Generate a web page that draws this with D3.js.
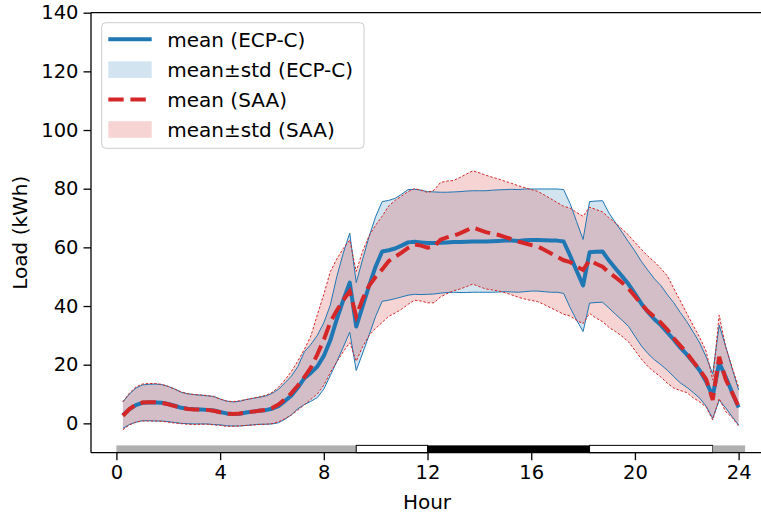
<!DOCTYPE html>
<html>
<head>
<meta charset="utf-8">
<script src="https://cdn.jsdelivr.net/npm/d3@7"></script>
<style>
  html, body { margin: 0; padding: 0; background: #fff; }
  svg { display: block; font-family: "DejaVu Sans", sans-serif; }
</style>
</head>
<body>
<svg id="chart" width="761" height="518"></svg>
<script>
const hours = [0.25,0.5,0.75,1,1.25,1.5,1.75,2,2.25,2.5,2.75,3,
  3.25,3.5,3.75,4,4.25,4.5,4.75,5,5.25,5.5,5.75,6,
  6.25,6.5,6.75,7,7.25,7.5,7.75,8,8.25,8.5,8.75,9,
  9.25,9.5,9.75,10,10.25,10.5,10.75,11,11.25,11.5,11.75,12,
  12.25,12.5,12.75,13,13.25,13.5,13.75,14,14.25,14.5,14.75,15,
  15.25,15.5,15.75,16,16.25,16.5,16.75,17,17.25,17.5,17.75,18,
  18.25,18.5,18.75,19,19.25,19.5,19.75,20,20.25,20.5,20.75,21,
  21.25,21.5,21.75,22,22.25,22.5,22.75,23,23.25,23.5,23.75,24];

const ecpMean = [2.8,4.8,6.2,7.0,7.1,7.1,7.0,6.6,6.0,5.3,5.0,4.8,
  4.7,4.6,4.4,3.9,3.4,3.2,3.3,3.7,4.0,4.3,4.5,5.0,
  5.9,7.6,9.5,12.2,15.4,17.2,19.4,23.0,28.3,35.5,42.0,48.0,
  33.0,40.0,47.0,53.5,58.6,59.0,59.6,60.6,61.7,61.9,61.7,61.5,
  61.5,61.6,61.7,61.8,61.8,61.9,62.0,62.0,62.0,62.1,62.2,62.3,
  62.3,62.2,62.4,62.5,62.5,62.4,62.3,62.3,62.0,57.2,52.0,47.0,
  58.3,58.5,58.6,55.5,52.8,50.2,47.5,44.2,40.8,38.0,35.5,33.5,
  31.0,28.5,25.8,23.5,20.8,18.0,14.2,9.3,20.7,15.8,10.5,5.4];

const ecpStd = [4.5,5.2,5.8,6.1,6.2,6.3,6.2,6.0,5.7,5.3,5.1,5.0,
  4.9,4.8,4.8,4.4,4.2,4.1,4.2,4.4,4.5,4.6,4.8,5.2,
  5.7,6.2,6.6,7.2,9.0,9.7,10.6,11.3,12.0,14.5,16.0,16.9,
  15.0,16.0,16.8,17.0,17.0,17.0,17.1,17.5,18.0,17.9,17.8,17.5,
  17.4,17.2,17.1,17.1,17.2,17.3,17.3,17.3,17.3,17.4,17.4,17.4,
  17.5,17.5,17.5,17.4,17.4,17.5,17.6,17.6,17.7,17.7,16.8,15.7,
  17.3,17.3,17.3,16.2,15.6,15.0,14.4,14.5,14.4,14.2,13.8,13.5,
  12.9,12.6,12.0,11.2,10.3,9.4,8.4,7.6,12.8,10.5,8.2,6.0];

const saaMean = [2.6,4.9,6.4,7.1,7.2,7.2,7.0,6.5,5.9,5.3,4.9,4.7,
  4.7,4.6,4.3,3.8,3.3,3.2,3.4,3.7,4.0,4.3,4.6,5.2,
  6.4,8.2,10.3,12.9,15.8,19.0,23.5,28.5,34.5,38.5,42.0,45.0,
  36.5,42.5,47.0,50.0,52.5,55.3,56.8,58.2,59.8,61.0,60.6,59.9,
  60.3,62.6,63.4,64.0,64.8,65.8,66.8,66.0,65.2,64.7,64.2,63.5,
  62.8,62.0,61.4,60.8,60.3,59.2,58.0,56.8,55.6,55.0,53.5,52.3,
  55.6,54.4,53.4,51.4,49.8,48.0,46.0,43.3,40.6,38.2,36.3,34.3,
  32.0,29.0,26.5,24.0,21.0,18.3,15.0,8.0,22.7,15.0,10.5,5.7];

const saaStd = [4.8,5.4,6.0,6.3,6.4,6.4,6.3,6.1,5.8,5.4,5.2,5.1,
  5.0,4.9,4.8,4.5,4.3,4.2,4.3,4.4,4.6,4.7,4.9,5.3,
  5.9,6.6,7.4,8.4,9.4,10.8,13.5,15.5,17.2,17.5,17.6,17.5,
  15.3,16.3,17.0,17.6,18.1,18.8,19.2,19.3,19.2,19.0,18.9,18.8,
  19.2,19.5,19.2,18.8,19.0,19.2,19.3,19.4,19.4,19.2,19.1,19.0,
  19.0,19.0,19.0,18.9,18.8,18.7,18.6,18.5,18.4,18.4,18.4,18.3,
  18.1,18.5,18.7,18.7,18.5,18.3,18.2,18.4,18.7,18.8,18.8,18.5,
  18.3,17.0,15.3,13.5,12.3,11.0,9.5,6.8,14.2,11.0,8.5,6.6];

// bottom schedule bar
const barStart = [0, 9.25, 12, 18.25, 23];
const barEnd   = [9.25, 12, 18.25, 23, 24.25];
const barKind  = ["gray", "white", "black", "white", "gray"];
const barLow = -10, barHigh = -7.5;

const xTicks = [0, 4, 8, 12, 16, 20, 24];
const yTicks = [0, 20, 40, 60, 80, 100, 120, 140];

const legendLabels = ["mean (ECP-C)", "mean\u00b1std (ECP-C)", "mean (SAA)", "mean\u00b1std (SAA)"];

const BLUE = "#1f77b4", RED = "#d62728";
const FS_TICK = 19.5, FS = 20;

const svg = d3.select("#chart");
const L = 91, R = 763, T = 12.7, B = 452.7;
const x = d3.scaleLinear().domain([-0.98, 24.94]).range([L, R]);
const y = d3.scaleLinear().domain([-10, 140]).range([B, T]);

const ecp = hours.map((h, i) => ({h, m: ecpMean[i], s: ecpStd[i]}));
const saa = hours.map((h, i) => ({h, m: saaMean[i], s: saaStd[i]}));

const area = d3.area().x(d => x(d.h)).y0(d => y(d.m - d.s)).y1(d => y(d.m + d.s));
const lineM = d3.line().x(d => x(d.h)).y(d => y(d.m));
const lineU = d3.line().x(d => x(d.h)).y(d => y(d.m + d.s));
const lineL = d3.line().x(d => x(d.h)).y(d => y(d.m - d.s));

const plot = svg.append("g");

// bands
plot.append("path").datum(ecp).attr("d", area).attr("fill", BLUE).attr("fill-opacity", 0.2);
plot.append("path").datum(saa).attr("d", area).attr("fill", RED).attr("fill-opacity", 0.2);

// band edges
[lineU, lineL].forEach(g => {
  plot.append("path").datum(ecp).attr("d", g).attr("fill", "none")
    .attr("stroke", BLUE).attr("stroke-width", 1);
});
[lineU, lineL].forEach(g => {
  plot.append("path").datum(saa).attr("d", g).attr("fill", "none")
    .attr("stroke", RED).attr("stroke-width", 1).attr("stroke-dasharray", "2.5,1.8");
});

// means
plot.append("path").datum(ecp).attr("d", lineM).attr("fill", "none")
  .attr("stroke", BLUE).attr("stroke-width", 4).attr("stroke-linejoin", "round");
plot.append("path").datum(saa).attr("d", lineM).attr("fill", "none")
  .attr("stroke", RED).attr("stroke-width", 4).attr("stroke-dasharray", "15.4,6.7");

// schedule bar
const barFill = {gray: "#b0b0b0", white: "#ffffff", black: "#000000"};
barStart.forEach((s, i) => {
  const r = plot.append("rect")
    .attr("x", x(s)).attr("width", x(barEnd[i]) - x(s))
    .attr("y", y(barHigh)).attr("height", y(barLow) - y(barHigh))
    .attr("fill", barFill[barKind[i]]);
  if (barKind[i] === "white") r.attr("stroke", "#000").attr("stroke-width", 1);
});

// axes
const xAxis = d3.axisBottom(x).tickValues(xTicks).tickSize(7.5).tickPadding(5);
const yAxis = d3.axisLeft(y).tickValues(yTicks).tickSize(7.5).tickPadding(5);

const gx = svg.append("g").attr("transform", `translate(0,${B})`).call(xAxis);
const gy = svg.append("g").attr("transform", `translate(${L},0)`).call(yAxis);
[gx, gy].forEach(g => {
  g.selectAll("text").attr("font-size", FS_TICK).attr("font-family", "DejaVu Sans").attr("fill", "#000");
  g.selectAll("line").attr("stroke", "#000").attr("stroke-width", 1.3);
  g.select(".domain").remove();
});

// spines
svg.append("line").attr("x1", L).attr("x2", L).attr("y1", T).attr("y2", B).attr("stroke", "#000").attr("stroke-width", 1.3);
svg.append("line").attr("x1", L).attr("x2", R).attr("y1", B).attr("y2", B).attr("stroke", "#000").attr("stroke-width", 1.3);
svg.append("line").attr("x1", L).attr("x2", R).attr("y1", T).attr("y2", T).attr("stroke", "#000").attr("stroke-width", 1.3);

// axis labels
svg.append("text").attr("x", (L + R) / 2).attr("y", 509).attr("text-anchor", "middle")
  .attr("font-size", FS).text("Hour");
svg.append("text").attr("transform", `translate(27,${(T + B) / 2}) rotate(-90)`)
  .attr("text-anchor", "middle").attr("font-size", FS).text("Load (kWh)");

// legend
const lg = svg.append("g");
lg.append("rect").attr("x", 101.7).attr("y", 22.7).attr("width", 262.3).attr("height", 125.6)
  .attr("rx", 4).attr("fill", "#fff").attr("fill-opacity", 0.8)
  .attr("stroke", "#cccccc").attr("stroke-width", 1);
const rowY = [39.3, 69.6, 99.5, 129.5];
const hx0 = 108.3, hx1 = 151.7;
// handles
lg.append("line").attr("x1", hx0).attr("x2", hx1).attr("y1", rowY[0]).attr("y2", rowY[0])
  .attr("stroke", BLUE).attr("stroke-width", 4);
lg.append("rect").attr("x", hx0).attr("y", rowY[1] - 8.3).attr("width", hx1 - hx0).attr("height", 16.6)
  .attr("fill", BLUE).attr("fill-opacity", 0.2);
lg.append("line").attr("x1", hx0).attr("x2", hx1).attr("y1", rowY[2]).attr("y2", rowY[2])
  .attr("stroke", RED).attr("stroke-width", 4).attr("stroke-dasharray", "15.4,6.7");
lg.append("rect").attr("x", hx0).attr("y", rowY[3] - 8.3).attr("width", hx1 - hx0).attr("height", 16.6)
  .attr("fill", RED).attr("fill-opacity", 0.2);
legendLabels.forEach((t, i) => {
  lg.append("text").attr("x", 167.3).attr("y", rowY[i] + 7.2).attr("font-size", FS).text(t);
});
</script>
</body>
</html>
